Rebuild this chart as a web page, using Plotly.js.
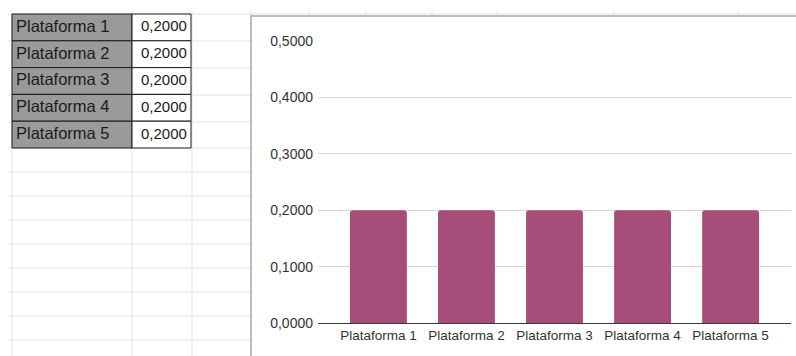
<!DOCTYPE html>
<html>
<head>
<meta charset="utf-8">
<script src="https://cdn.plot.ly/plotly-3.0.1.min.js"></script>
<style>
html,body{margin:0;padding:0;background:#fff;}
#chart{width:796px;height:356px;}
</style>
</head>
<body>
<div id="chart"></div>
<script>
// ---- data ----
const categories = ['Plataforma 1', 'Plataforma 2', 'Plataforma 3', 'Plataforma 4', 'Plataforma 5'];
const values = [0.2, 0.2, 0.2, 0.2, 0.2];
const valueLabels = ['0,2000', '0,2000', '0,2000', '0,2000', '0,2000'];

// ---- layout helpers (pixel -> paper) ----
const W = 796, H = 356;
const px = x => x / W;
const py = y => 1 - y / H;

const gridColor = '#e2e2e2';
const shapes = [];
const annotations = [];

// spreadsheet grid: horizontal rows
const rowLines = [14, 41, 68, 95, 122, 148, 172, 196, 220, 244, 268, 292, 316, 340];
rowLines.forEach(y => {
  shapes.push({type:'line', xref:'paper', yref:'paper', x0:px(8), x1:px(y === 14 ? W : 251), y0:py(y), y1:py(y),
    line:{color:gridColor, width:1}, layer:'below'});
});
// vertical columns left of chart (full height)
[12, 132, 192].forEach(x => {
  shapes.push({type:'line', xref:'paper', yref:'paper', x0:px(x), x1:px(x), y0:py(11), y1:py(H),
    line:{color:gridColor, width:1}, layer:'below'});
});
// column ticks above chart frame
[251, 309, 366, 432, 497, 614, 738].forEach(x => {
  shapes.push({type:'line', xref:'paper', yref:'paper', x0:px(x), x1:px(x), y0:py(11), y1:py(16),
    line:{color:gridColor, width:1}, layer:'below'});
});

// chart frame
shapes.push({type:'rect', xref:'paper', yref:'paper', x0:px(251), x1:px(W + 5), y0:py(16), y1:py(H + 5),
  fillcolor:'#ffffff', line:{color:'#a8a8a8', width:1.5}, layer:'below'});

// table cells
const tableTop = 14, rowH = 26.8;
categories.forEach((c, i) => {
  const y0 = tableTop + i * rowH, y1 = tableTop + (i + 1) * rowH;
  shapes.push({type:'rect', xref:'paper', yref:'paper', x0:px(12), x1:px(132), y0:py(y0), y1:py(y1),
    fillcolor:'#9a9a9a', line:{color:'#1a1a1a', width:1}, layer:'below'});
  shapes.push({type:'rect', xref:'paper', yref:'paper', x0:px(132), x1:px(191), y0:py(y0), y1:py(y1),
    fillcolor:'#ffffff', line:{color:'#1a1a1a', width:1}, layer:'below'});
  const yc = (y0 + y1) / 2 - 1.5;
  annotations.push({xref:'paper', yref:'paper', x:px(14), y:py(yc), xanchor:'left', yanchor:'middle',
    text:c, showarrow:false, font:{family:'Liberation Sans, Arial, sans-serif', size:16.5, color:'#1a1a1a'}});
  annotations.push({xref:'paper', yref:'paper', x:px(189), y:py(yc), xanchor:'right', yanchor:'middle',
    text:valueLabels[i], showarrow:false, font:{family:'Liberation Sans, Arial, sans-serif', size:15, color:'#1a1a1a'}});
});

const trace = {
  type:'bar',
  x: categories,
  y: values,
  marker:{color:'#a64d79', cornerradius:3, line:{width:0}},
  hoverinfo:'none'
};

const layout = {
  width: W, height: H,
  margin:{l:0, r:0, t:0, b:0, pad:0},
  paper_bgcolor:'#ffffff',
  plot_bgcolor:'rgba(0,0,0,0)',
  separators: ',.',
  showlegend:false,
  bargap: 0.354,
  font:{family:'Liberation Sans, Arial, sans-serif', color:'#333333'},
  xaxis:{
    domain:[px(318), px(791)],
    range:[-0.686, 4.686],
    showgrid:false, zeroline:false,
    showline:true, linecolor:'#3a3a3a', linewidth:1,
    ticks:'', tickfont:{size:13.5, color:'#333333'},
    fixedrange:true
  },
  yaxis:{
    domain:[py(323), py(41)],
    range:[0, 0.5],
    dtick:0.1, tick0:0,
    tickformat:'.4f',
    showgrid:true, gridcolor:'#d4d4d4', gridwidth:1,
    zeroline:false, showline:false,
    ticks:'', ticklabelstandoff:4,
    tickfont:{size:14, color:'#333333'},
    fixedrange:true
  },
  shapes: shapes,
  annotations: annotations
};

Plotly.newPlot('chart', [trace], layout, {displayModeBar:false, staticPlot:true});
</script>
</body>
</html>
